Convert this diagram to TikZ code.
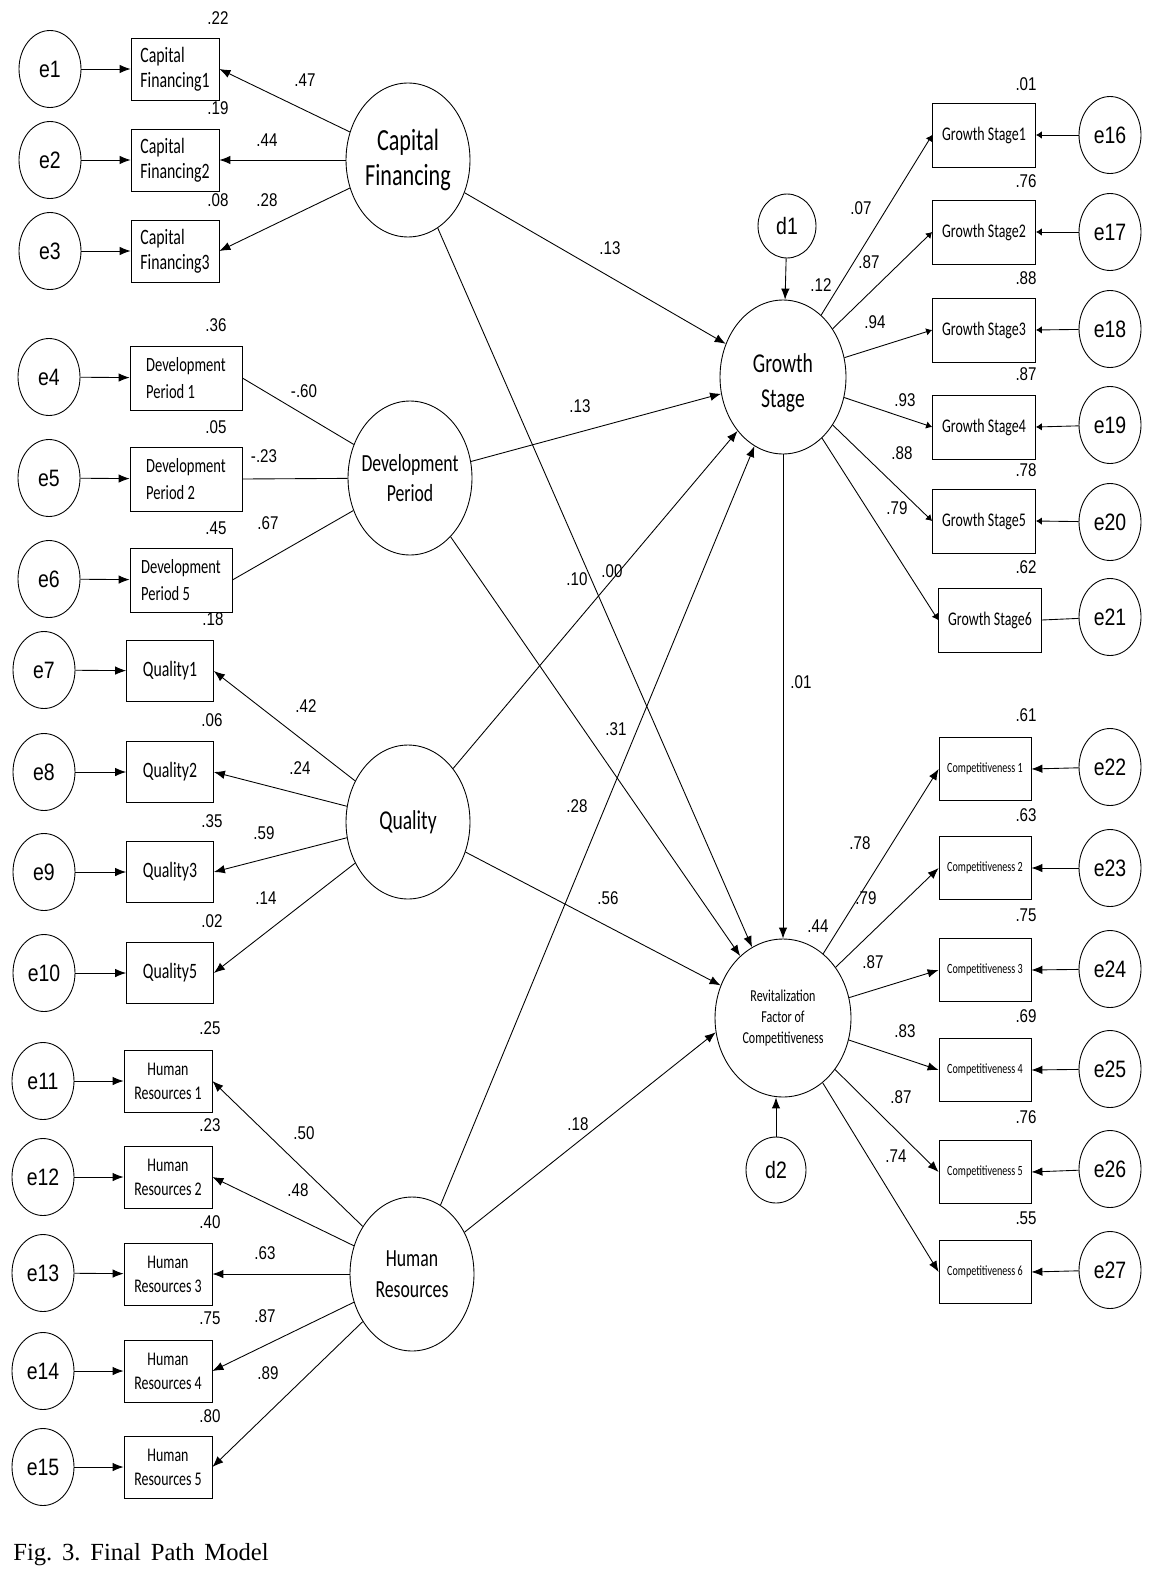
\documentclass[tikz,border=0pt]{standalone}
\usepackage{fontspec}
\setmainfont{Liberation Sans}[FakeStretch=0.82]
\newfontfamily\boxfont{Carlito}[FakeStretch=0.72]
\newfontfamily\capfont{Liberation Serif}
\usetikzlibrary{shapes.geometric,arrows.meta}
\begin{document}
\begin{tikzpicture}[
    x=0.02cm, y=-0.02cm,
    >={Latex[length=2.2mm,width=1.7mm]},
    err/.style={draw,ellipse,line width=0.5pt,inner sep=0pt,minimum width=1.24cm,minimum height=1.54cm,font=\fontsize{13.5}{15}\selectfont},
    dist/.style={err,minimum width=1.16cm,minimum height=1.28cm},
    latent/.style={draw,ellipse,line width=0.5pt,inner sep=0pt,minimum width=2.48cm,minimum height=3.08cm},
    latbig/.style={align=center,inner sep=0pt,font=\boxfont\fontsize{17.5}{20}\selectfont},
    latmid/.style={align=center,inner sep=0pt,font=\boxfont\fontsize{14}{17.5}\selectfont},
    latgs/.style={align=center,inner sep=0pt,font=\boxfont\fontsize{15.5}{19.5}\selectfont},
    latrf/.style={align=center,inner sep=0pt,font=\boxfont\fontsize{9.5}{12}\selectfont},
    obs/.style={draw,line width=0.45pt,inner sep=0pt},
    cfbox/.style={obs,minimum width=1.76cm,minimum height=1.24cm,align=left,font=\boxfont\fontsize{12.5}{14}\selectfont},
    dpbox/.style={obs,minimum width=2.24cm,minimum height=1.28cm,align=left,font=\boxfont\fontsize{11.5}{15}\selectfont},
    qbox/.style={obs,minimum width=1.74cm,minimum height=1.22cm,font=\boxfont\fontsize{12.5}{14}\selectfont},
    hrbox/.style={obs,minimum width=1.76cm,minimum height=1.24cm,align=center,font=\boxfont\fontsize{11}{13.8}\selectfont},
    gsbox/.style={obs,minimum width=2.06cm,minimum height=1.28cm,font=\boxfont\fontsize{11}{13}\selectfont},
    cbox/.style={obs,minimum width=1.84cm,minimum height=1.26cm,font=\boxfont\fontsize{8}{10}\selectfont},
    num/.style={inner sep=0pt,font=\fontsize{10.5}{12}\selectfont},
    pth/.style={->,line width=0.5pt},
    tip/.style={-{Latex[length=1.2mm,width=1.5mm]},line width=0.5pt}
]
\useasboundingbox (0,0) rectangle (1161,1571);

% Capital Financing
\node[err] (e1) at (50,69) {e1};
\node[err] (e2) at (50,160) {e2};
\node[err] (e3) at (50,251) {e3};
\node[cfbox] (cf1) at (175,69) {Capital\\Financing1};
\node[cfbox] (cf2) at (175,160) {Capital\\Financing2};
\node[cfbox] (cf3) at (175,251) {Capital\\Financing3};
\node[latent,label={[latbig]center:{Capital\\Financing}}] (CF) at (408,160) {};
\foreach \i in {1,2,3} {
  \draw[pth] (e\i) -- (cf\i);
  \draw[pth] (CF) -- (cf\i.east);
}

% Development Period
\node[err] (e4) at (49,377) {e4};
\node[err] (e5) at (49,478) {e5};
\node[err] (e6) at (49,579) {e6};
\node[dpbox] (dp1) at (186,378) {Development\\Period 1};
\node[dpbox] (dp2) at (186,479) {Development\\Period 2};
\node[dpbox,minimum width=2.04cm] (dp5) at (181,580) {Development\\Period 5};
\node[latent,label={[latmid]center:{Development\\Period}}] (DP) at (410,478) {};
\foreach \e/\b in {4/1,5/2,6/5} {
  \draw[pth] (e\e) -- (dp\b);
  \draw[line width=0.5pt] (DP) -- (dp\b.east);
}

% Quality
\node[err] (e7) at (44,670) {e7};
\node[err] (e8) at (44,772) {e8};
\node[err] (e9) at (44,872) {e9};
\node[err] (e10) at (44,973) {e10};
\node[qbox] (q1) at (170,671) {Quality1};
\node[qbox] (q2) at (170,772) {Quality2};
\node[qbox] (q3) at (170,872) {Quality3};
\node[qbox] (q5) at (170,973) {Quality5};
\node[latent,label={[latgs]center:{Quality}}] (Q) at (408,822) {};
\foreach \e/\b in {7/1,8/2,9/3,10/5} {
  \draw[pth] (e\e) -- (q\b);
  \draw[pth] (Q) -- (q\b.east);
}

% Human Resources
\node[err] (e11) at (43,1081) {e11};
\node[err] (e12) at (43,1177) {e12};
\node[err] (e13) at (43,1273) {e13};
\node[err] (e14) at (43,1371) {e14};
\node[err] (e15) at (43,1467) {e15};
\foreach \i/\y in {1/1081,2/1177,3/1274,4/1371,5/1467}
  \node[hrbox] (hr\i) at (168,\y) {Human\\Resources \i};
\node[latent,label={[latmid]center:{Human\\Resources}}] (HR) at (412,1274) {};
\foreach \i in {1,...,5} {
  \pgfmathtruncatemacro{\e}{\i+10}
  \draw[pth] (e\e) -- (hr\i);
  \draw[pth] (HR) -- (hr\i.east);
}

% Growth Stage
\node[dist] (d1) at (787,226) {d1};
\node[latent,minimum width=2.52cm,label={[latgs,yshift=-0.12cm]center:{Growth\\Stage}}] (GS) at (783,377) {};
\foreach \i/\y in {1/135,2/232,3/330,4/427,5/521}
  \node[gsbox] (gs\i) at (984,\y) {Growth Stage\i};
\node[gsbox] (gs6) at (990,620) {Growth Stage6};
\foreach \i/\y in {16/135,17/232,18/329,19/425,20/522,21/617}
  \node[err] (e\i) at (1110,\y) {e\i};
\foreach \i/\e in {1/16,2/17,3/18,4/19,5/20} {
  \draw[tip] (e\e) -- (gs\i.east);
  \draw[tip] (GS) -- (gs\i.west);
}
\draw[line width=0.5pt] (e21) -- (gs6.east);
\draw[tip] (GS) -- (gs6.west);
\draw[pth] (d1) -- (GS);

% Revitalization Factor of Competitiveness
\node[latent,minimum width=2.72cm,minimum height=3.16cm,label={[latrf]center:{Revitalization\\Factor of\\Competitiveness}}] (RF) at (783,1018) {};
\node[dist,minimum width=1.2cm,minimum height=1.32cm] (d2) at (776,1170) {d2};
\foreach \i/\y in {1/769,2/868,3/970,4/1070,5/1172,6/1272}
  \node[cbox] (c\i) at (985,\y) {Competitiveness \i};
\foreach \i/\y in {22/767,23/868,24/969,25/1069,26/1169,27/1270}
  \node[err] (e\i) at (1110,\y) {e\i};
\foreach \i/\e in {1/22,2/23,3/24,4/25,5/26,6/27} {
  \draw[pth] (e\e) -- (c\i.east);
  \draw[pth] (RF) -- (c\i.west);
}
\draw[pth] (d2.north) -- (d2.north |- RF.south);

% structural paths
\foreach \s in {CF,DP,Q,HR}
  \draw[pth] (\s) -- (GS);
\draw[pth] (CF) -- (RF);
\draw[pth] (DP) -- (RF);
\draw[pth] (Q) -- (RF);
\draw[pth] (HR) -- (RF.192);
\draw[pth] (GS) -- (RF);

% estimates
\foreach \x/\y/\t in {218/18/.22, 218/108/.19, 218/200/.08, 305/80/.47, 267/140/.44, 267/200/.28,
    216/325/.36, 216/427/.05, 216/528/.45, 304/391/-.60, 264/456/-.23, 268/523/.67,
    213/619/.18, 212/720/.06, 212/821/.35, 212/921/.02, 306/706/.42, 300/768/.24, 264/833/.59, 266/898/.14,
    210/1028/.25, 210/1125/.23, 210/1222/.40, 210/1318/.75, 210/1416/.80,
    304/1133/.50, 298/1190/.48, 265/1253/.63, 265/1316/.87, 268/1373/.89,
    610/248/.13, 580/406/.13, 577/579/.10, 612/571/.00, 616/729/.31, 577/806/.28, 608/898/.56, 578/1124/.18,
    801/682/.01, 821/285/.12, 818/926/.44,
    1026/84/.01, 1026/181/.76, 1026/278/.88, 1026/374/.87, 1026/470/.78, 1026/567/.62,
    861/208/.07, 869/262/.87, 875/322/.94, 905/400/.93, 902/453/.88, 897/508/.79,
    1026/715/.61, 1026/815/.63, 1026/915/.75, 1026/1016/.69, 1026/1117/.76, 1026/1218/.55,
    860/843/.78, 866/898/.79, 873/962/.87, 905/1031/.83, 901/1097/.87, 896/1156/.74}
  \node[num] (v\x-\y) at (\x,\y) {\t};

\node[anchor=west,inner sep=0pt,font=\capfont\fontsize{14}{16}\selectfont] (cap) at (13,1555)
  {Fig.\hspace{0.4em}3.\hspace{0.4em}Final\hspace{0.4em}Path\hspace{0.4em}Model};
\end{tikzpicture}
\end{document}
